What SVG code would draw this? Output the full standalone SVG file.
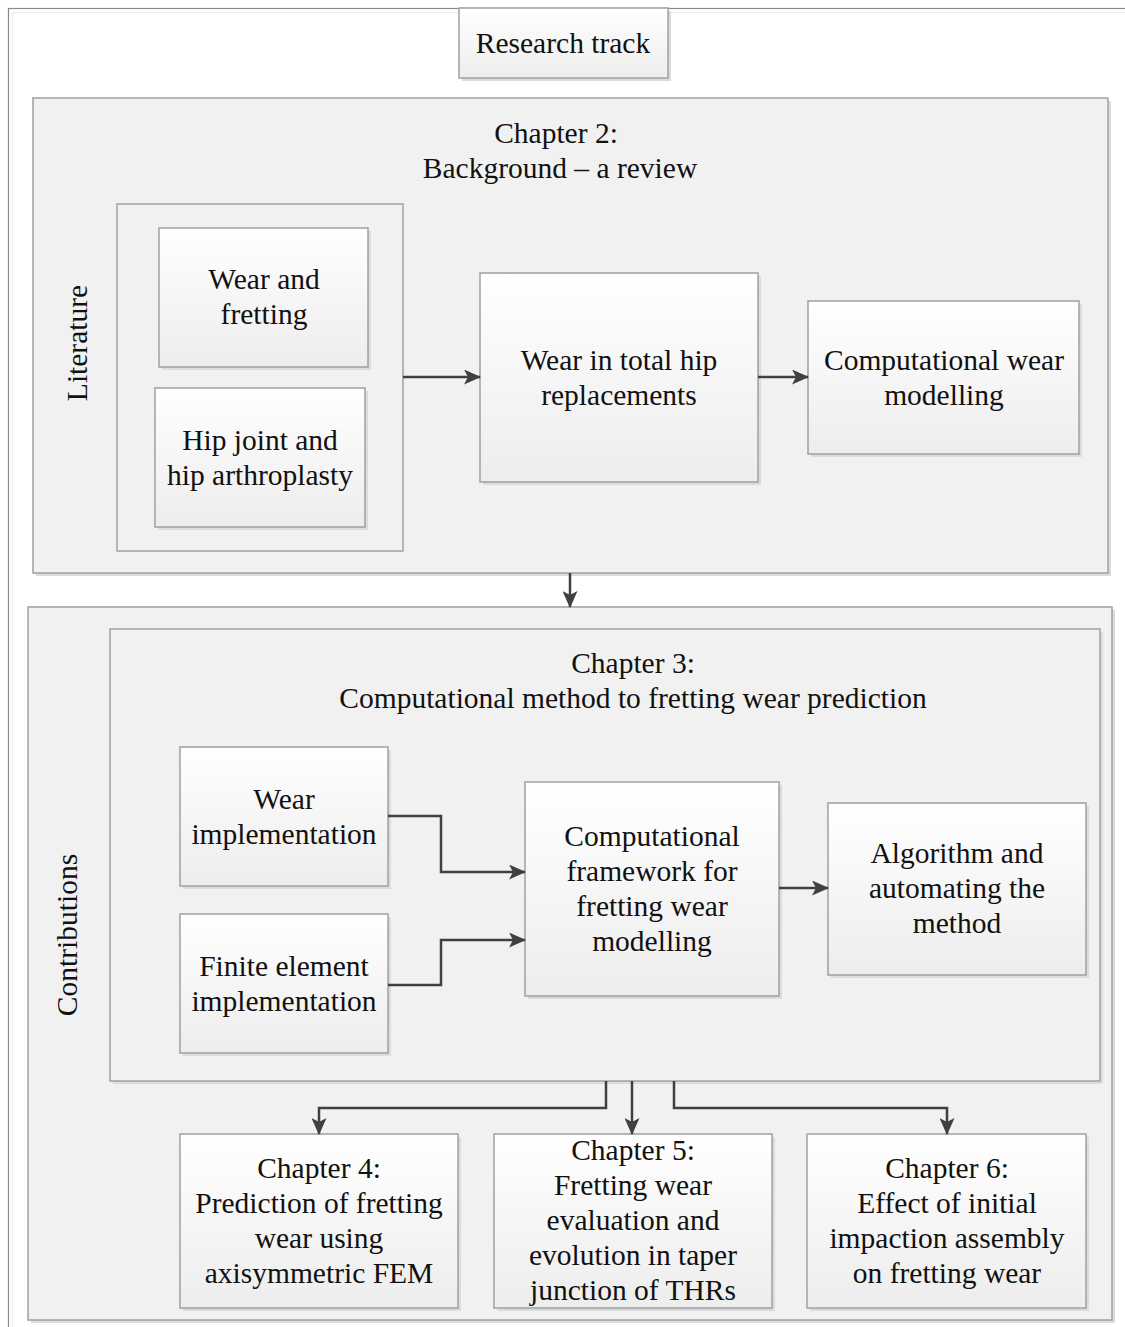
<svg xmlns="http://www.w3.org/2000/svg" width="1125" height="1327" viewBox="0 0 1125 1327">
<defs>
<linearGradient id="g" x1="0" y1="0" x2="0" y2="1"><stop offset="0" stop-color="#ffffff"/><stop offset="1" stop-color="#ededed"/></linearGradient>
<marker id="ah" markerWidth="17" markerHeight="15" refX="16" refY="7.5" orient="auto" markerUnits="userSpaceOnUse"><path d="M0,0 L17,7.5 L0,15 L4,7.5 Z" fill="#404040"/></marker>
<style>
.cont{fill:#f1f1f1;stroke:#a0a0a0;stroke-width:1.5}
.node{fill:url(#g);stroke:#a0a0a0;stroke-width:1.5}
.sh{fill:#dcdcdc}
text{font-family:"Liberation Serif","Times New Roman",serif;font-size:29.5px;fill:#111;text-anchor:middle}
.c{fill:none;stroke:#404040;stroke-width:2.5;marker-end:url(#ah)}
</style>
</defs>
<rect width="1125" height="1327" fill="#ffffff"/>
<g id="frame">
<rect x="8.5" y="8.5" width="1130" height="1330" fill="none" stroke="#8a8a8a" stroke-width="1.2"/>
<rect x="12.5" y="12.5" width="1130" height="1330" fill="none" stroke="#eeeeee" stroke-width="1.5"/>
</g>
<g id="research-track">
<rect class="sh" x="462" y="11" width="209" height="70"/>
<rect class="node" x="459" y="8" width="209" height="70"/>
<text x="563" y="53">Research track</text>
</g>
<g id="chapter2">
<rect class="sh" x="36" y="101" width="1075" height="475"/>
<rect class="cont" x="33" y="98" width="1075" height="475"/>
<text x="556" y="143">Chapter 2:</text>
<text x="560" y="178">Background – a review</text>
<text transform="translate(87,343) rotate(-90)">Literature</text>
</g>
<g id="literature">
<rect class="cont" x="117" y="204" width="286" height="347"/>
</g>
<g id="wear-fretting">
<rect class="sh" x="162" y="231" width="209" height="139"/>
<rect class="node" x="159" y="228" width="209" height="139"/>
<text x="264" y="289">Wear and</text>
<text x="264" y="324">fretting</text>
</g>
<g id="hip-joint">
<rect class="sh" x="158" y="391" width="210" height="139"/>
<rect class="node" x="155" y="388" width="210" height="139"/>
<text x="260" y="450">Hip joint and</text>
<text x="260" y="485">hip arthroplasty</text>
</g>
<g id="wear-thr">
<rect class="sh" x="483" y="276" width="278" height="209"/>
<rect class="node" x="480" y="273" width="278" height="209"/>
<text x="619" y="370">Wear in total hip</text>
<text x="619" y="405">replacements</text>
</g>
<g id="comp-wear">
<rect class="sh" x="811" y="304" width="271" height="153"/>
<rect class="node" x="808" y="301" width="271" height="153"/>
<text x="944" y="370">Computational wear</text>
<text x="944" y="405">modelling</text>
</g>
<g id="contributions">
<rect class="sh" x="31" y="610" width="1084" height="713"/>
<rect class="cont" x="28" y="607" width="1084" height="713"/>
<text transform="translate(77,935) rotate(-90)">Contributions</text>
</g>
<g id="chapter3">
<rect class="sh" x="113" y="632" width="990" height="452"/>
<rect class="cont" x="110" y="629" width="990" height="452"/>
<text x="633" y="673">Chapter 3:</text>
<text x="633" y="708">Computational method to fretting wear prediction</text>
</g>
<g id="wear-impl">
<rect class="sh" x="183" y="750" width="208" height="139"/>
<rect class="node" x="180" y="747" width="208" height="139"/>
<text x="284" y="809">Wear</text>
<text x="284" y="844">implementation</text>
</g>
<g id="fe-impl">
<rect class="sh" x="183" y="917" width="208" height="139"/>
<rect class="node" x="180" y="914" width="208" height="139"/>
<text x="284" y="976">Finite element</text>
<text x="284" y="1011">implementation</text>
</g>
<g id="framework">
<rect class="sh" x="528" y="785" width="254" height="214"/>
<rect class="node" x="525" y="782" width="254" height="214"/>
<text x="652" y="846">Computational</text>
<text x="652" y="881">framework for</text>
<text x="652" y="916">fretting wear</text>
<text x="652" y="951">modelling</text>
</g>
<g id="algorithm">
<rect class="sh" x="831" y="806" width="258" height="172"/>
<rect class="node" x="828" y="803" width="258" height="172"/>
<text x="957" y="863">Algorithm and</text>
<text x="957" y="898">automating the</text>
<text x="957" y="933">method</text>
</g>
<g id="chapter4">
<rect class="sh" x="183" y="1137" width="278" height="174"/>
<rect class="node" x="180" y="1134" width="278" height="174"/>
<text x="319" y="1178">Chapter 4:</text>
<text x="319" y="1213">Prediction of fretting</text>
<text x="319" y="1248">wear using</text>
<text x="319" y="1283">axisymmetric FEM</text>
</g>
<g id="chapter5">
<rect class="sh" x="497" y="1137" width="278" height="174"/>
<rect class="node" x="494" y="1134" width="278" height="174"/>
<text x="633" y="1160">Chapter 5:</text>
<text x="633" y="1195">Fretting wear</text>
<text x="633" y="1230">evaluation and</text>
<text x="633" y="1265">evolution in taper</text>
<text x="633" y="1300">junction of THRs</text>
</g>
<g id="chapter6">
<rect class="sh" x="810" y="1137" width="279" height="174"/>
<rect class="node" x="807" y="1134" width="279" height="174"/>
<text x="947" y="1178">Chapter 6:</text>
<text x="947" y="1213">Effect of initial</text>
<text x="947" y="1248">impaction assembly</text>
<text x="947" y="1283">on fretting wear</text>
</g>
<g id="connectors">
<path class="c" d="M403,377 H480"/>
<path class="c" d="M758,377 H808"/>
<path class="c" d="M570,573 V607"/>
<path class="c" d="M388,816 H441 V872 H525"/>
<path class="c" d="M388,985 H441 V940 H525"/>
<path class="c" d="M779,888 H828"/>
<path class="c" d="M606,1081 V1108 H319 V1134"/>
<path class="c" d="M632,1081 V1134"/>
<path class="c" d="M674,1081 V1108 H947 V1134"/>
</g>
</svg>
